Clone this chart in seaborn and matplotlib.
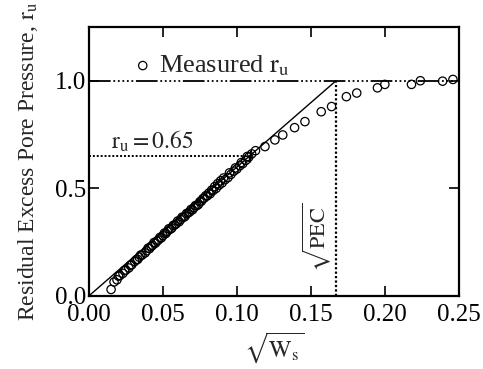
import numpy as np
import pandas as pd
import matplotlib
matplotlib.use('Agg')
import matplotlib.pyplot as plt
import seaborn as sns

# Measured r_u vs sqrt(Ws)
sqrt_ws = [0.015, 0.017, 0.019, 0.021, 0.023, 0.025, 0.027, 0.029, 0.031, 0.033,
           0.034, 0.036, 0.038, 0.039, 0.041, 0.042, 0.043, 0.045, 0.046, 0.047,
           0.049, 0.050, 0.052, 0.053, 0.055, 0.056, 0.058, 0.059, 0.061, 0.062,
           0.064, 0.065, 0.067, 0.068, 0.070, 0.071, 0.073, 0.074, 0.076, 0.078,
           0.080, 0.082, 0.084, 0.086, 0.088, 0.090, 0.092, 0.094, 0.096, 0.098,
           0.100, 0.102, 0.104, 0.106, 0.108, 0.110,
           0.020, 0.024, 0.028, 0.032, 0.035, 0.040, 0.044, 0.048, 0.051, 0.054,
           0.057, 0.060, 0.063, 0.066, 0.069, 0.072, 0.075, 0.077, 0.079, 0.081,
           0.083, 0.085, 0.087, 0.089, 0.091, 0.095, 0.099, 0.103, 0.107,
           0.1126, 0.119, 0.1257, 0.131, 0.139, 0.146, 0.157, 0.164, 0.174, 0.181,
           0.195, 0.200, 0.218, 0.224, 0.239, 0.246]
ru = [0.030, 0.065, 0.075, 0.095, 0.105, 0.120, 0.130, 0.145, 0.160, 0.170,
      0.180, 0.190, 0.200, 0.210, 0.220, 0.230, 0.235, 0.245, 0.255, 0.260,
      0.270, 0.280, 0.290, 0.300, 0.310, 0.315, 0.330, 0.335, 0.345, 0.355,
      0.365, 0.370, 0.385, 0.390, 0.400, 0.410, 0.420, 0.425, 0.440, 0.455,
      0.465, 0.475, 0.490, 0.500, 0.515, 0.525, 0.540, 0.550, 0.565, 0.580,
      0.590, 0.605, 0.615, 0.630, 0.645, 0.660,
      0.092, 0.118, 0.142, 0.168, 0.190, 0.222, 0.248, 0.272, 0.292, 0.312,
      0.328, 0.348, 0.366, 0.383, 0.402, 0.420, 0.438, 0.452, 0.466, 0.478,
      0.492, 0.508, 0.522, 0.535, 0.548, 0.572, 0.595, 0.620, 0.648,
      0.675, 0.694, 0.725, 0.748, 0.782, 0.810, 0.856, 0.880, 0.926, 0.943,
      0.967, 0.983, 0.983, 1.000, 0.998, 1.006]

# reference lines
pec = 0.167
ru_ref = 0.65
fit_x = [0.0, pec]
fit_y = [0.0, 1.0]

df = pd.DataFrame({'sqrt_ws': sqrt_ws, 'ru': ru})

sns.set_theme(style='ticks')
plt.rcParams['font.family'] = ['Liberation Serif', 'DejaVu Serif']
plt.rcParams['mathtext.fontset'] = 'stix'

fig = plt.figure(figsize=(4.83, 3.69), dpi=100)
ax = fig.add_axes([0.184, 0.198, 0.766, 0.729])

# fitted straight line and ru = 1 line
sns.lineplot(x=fit_x, y=fit_y, ax=ax, color='black', lw=1.0)
ax.plot([0, 0.25], [1.0, 1.0], color='black', lw=1.3,
        linestyle=(0, (12, 1.5, 1, 1.5, 1, 1.5, 1, 1.5, 1, 1.5, 1, 1.5)))
# dotted guides
ax.plot([0, ru_ref * pec], [ru_ref, ru_ref], color='black', lw=1.4, linestyle=(0, (1, 1)))
ax.plot([pec, pec], [0, 1.0], color='black', lw=1.6, linestyle=(0, (1, 1)))
ax.plot([ru_ref * pec], [ru_ref], marker='|', color='black', ms=8, mew=1)

sns.scatterplot(data=df, x='sqrt_ws', y='ru', ax=ax, marker='o', s=36,
                facecolor='none', edgecolor='black', linewidth=0.9,
                label=r'Measured $\mathrm{r_u}$', zorder=3)

ax.set_xlim(0, 0.25)
ax.set_ylim(0, 1.25)
ax.set_xticks([0.0, 0.05, 0.10, 0.15, 0.20, 0.25])
ax.set_xticklabels(['0.00', '0.05', '0.10', '0.15', '0.20', '0.25'])
ax.set_yticks([0.0, 0.5, 1.0])
ax.set_yticklabels(['0.0', '0.5', '1.0'])
ax.tick_params(direction='in', length=7, width=1.2, labelsize=18, pad=2,
               top=True, right=True, colors='black')
ax.tick_params(axis='x', pad=6)
for s in ax.spines.values():
    s.set_linewidth(1.6)
    s.set_color('black')

ax.set_xlabel(r'$\sqrt{\mathrm{W_s}}$', fontsize=17, labelpad=3)
ax.set_ylabel(r'Residual Excess Pore Pressure, $\mathrm{r_u}$', fontsize=17, labelpad=11)

ax.text(0.015, 0.72, r'$\mathrm{r_u = 0.65}$', fontsize=17, ha='left', va='center')
ax.text(pec - 0.002, 0.27, r'$\sqrt{\mathrm{PEC}}$', fontsize=16, rotation=90,
        ha='right', va='center')

ax.legend(loc='upper left', bbox_to_anchor=(0.06, 0.97), frameon=False,
          fontsize=19, handletextpad=0.1, handlelength=1.0, borderpad=0.2)

fig.savefig('out.png', dpi=100)
